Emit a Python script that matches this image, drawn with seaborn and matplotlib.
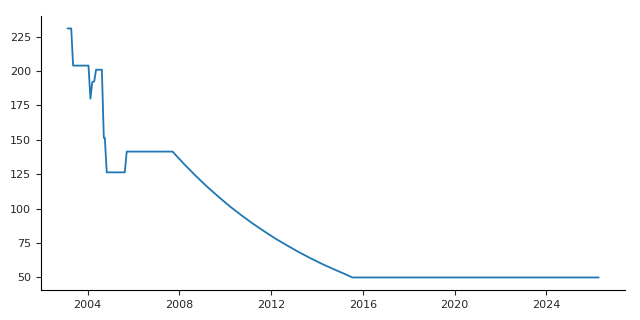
import matplotlib
matplotlib.use("Agg")
import matplotlib.pyplot as plt
import seaborn as sns
import pandas as pd

dates = [
    "2003-02-15", "2003-04-15", "2003-05-15", "2004-01-15", "2004-02-15",
    "2004-03-15", "2004-04-15", "2004-05-15", "2004-08-15", "2004-09-15",
    "2004-10-01", "2004-11-01", "2005-08-15", "2005-09-15",
    "2007-09-15", "2008-03-15", "2008-09-15", "2009-03-15", "2009-09-15",
    "2010-03-15", "2010-09-15", "2011-03-15", "2011-09-15", "2012-03-15",
    "2012-09-15", "2013-03-15", "2013-09-15", "2014-03-15", "2014-09-15",
    "2015-03-15", "2015-07-20", "2026-04-15",
]
values = [
    231.0, 231.0, 204.0, 204.0, 180.0,
    192.0, 192.5, 201.0, 201.0, 151.5,
    151.5, 126.4, 126.4, 141.5,
    141.5, 132.5, 124.0, 116.1, 108.7,
    101.7, 95.2, 89.2, 83.5, 78.1,
    73.2, 68.5, 64.1, 60.0, 56.2,
    52.6, 50.0, 50.0,
]

df = pd.DataFrame({"date": pd.to_datetime(dates), "value": values})

sns.set_style("white")
fig, ax = plt.subplots(figsize=(6.4, 3.2), dpi=100)
sns.lineplot(data=df, x="date", y="value", ax=ax, color="#1f77b4", linewidth=1.3)
ax.set_xlabel("")
ax.set_ylabel("")
sns.despine(ax=ax)
ax.tick_params(axis="both", which="both", length=3.5, width=0.8, labelsize=8, bottom=True, left=True)
for s in ["left", "bottom"]:
    ax.spines[s].set_color("black")
    ax.spines[s].set_linewidth(0.8)
fig.subplots_adjust(left=0.064, right=0.977, top=0.95, bottom=0.094)
fig.savefig("out.png", dpi=100)
